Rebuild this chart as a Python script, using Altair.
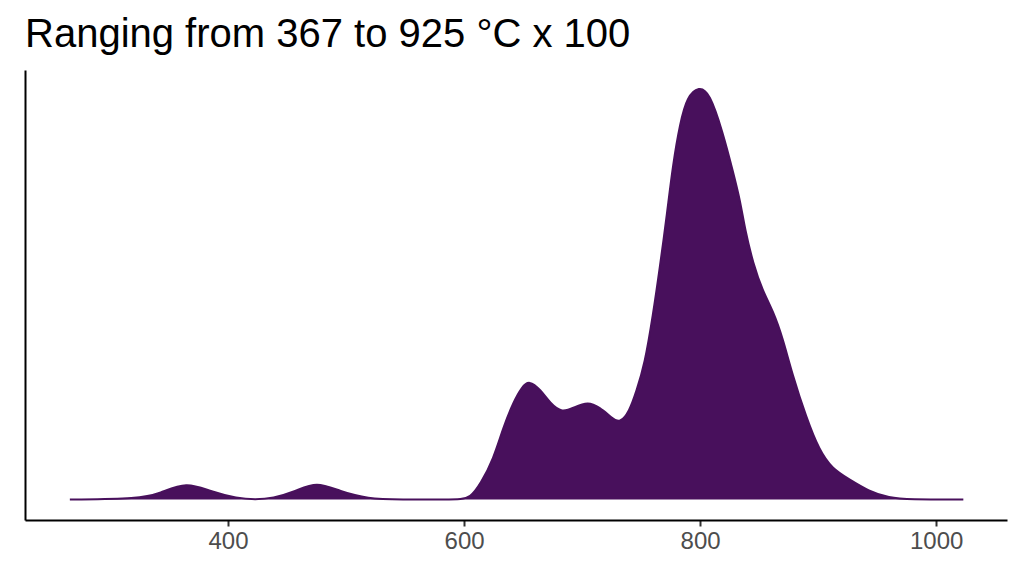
import altair as alt
import pandas as pd

temperature = [266, 325, 342, 365, 385, 408, 423, 438, 457, 475, 495, 518, 546, 588, 597, 605,
               614, 625, 633, 642, 649, 655, 665, 673, 683, 693, 705, 715, 725, 732, 740, 746,
               753, 760, 766, 772, 777, 783, 789, 799, 808, 819, 828, 834, 838, 845, 853, 862,
               870, 878, 890, 901, 912, 926, 943, 960, 977, 1023]
density = [0.0, 0.002, 0.015, 0.044, 0.02, 0.003, 0.0, 0.003, 0.02, 0.044, 0.02, 0.002, 0.0, 0.0, 0.001, 0.004,
           0.038, 0.10, 0.175, 0.24, 0.275, 0.292, 0.268, 0.235, 0.212, 0.225, 0.24, 0.225, 0.20, 0.186, 0.215, 0.265,
           0.33, 0.45, 0.57, 0.70, 0.82, 0.92, 0.985, 1.01, 0.995, 0.90, 0.80, 0.73, 0.66, 0.576, 0.51, 0.46,
           0.395, 0.307, 0.20, 0.12, 0.075, 0.05, 0.02, 0.004, 0.0, 0.0]
tick_values = [400, 600, 800, 1000]

df = pd.DataFrame({"t": temperature, "d": density})
color = "#48105C"

x = alt.X("t:Q", scale=alt.Scale(domain=[228, 1060], nice=False, zero=False),
          axis=alt.Axis(values=tick_values, title=None, format="d"))
y = alt.Y("d:Q", scale=alt.Scale(domain=[-0.05, 1.05], nice=False, zero=False),
          axis=alt.Axis(title=None, labels=False, ticks=False))

area = alt.Chart(df).mark_area(color=color, interpolate="basis", opacity=1).encode(
    x=x, y=y, y2=alt.datum(0))
line = alt.Chart(df).mark_line(color=color, strokeWidth=2, interpolate="basis").encode(x=x, y=y)

chart = (area + line).properties(
    width=982, height=450,
    padding={"left": 17, "top": 62, "right": 9, "bottom": 49},
    autosize=alt.AutoSizeParams(type="none"),
    title=alt.TitleParams("Ranging from 367 to 925 °C x 100", anchor="start", frame="group",
                          font="Liberation Sans", fontSize=40, fontWeight="normal",
                          color="black", offset=15),
).configure_view(stroke=None).configure_axis(
    grid=False, domainColor="black", domainWidth=2, tickColor="#333333", tickWidth=2,
    tickSize=6, labelColor="#4D4D4D", labelFontSize=24, labelFont="Liberation Sans",
    labelPadding=3
)

chart.save("out.html", embed_options={"renderer": "svg", "actions": False})
